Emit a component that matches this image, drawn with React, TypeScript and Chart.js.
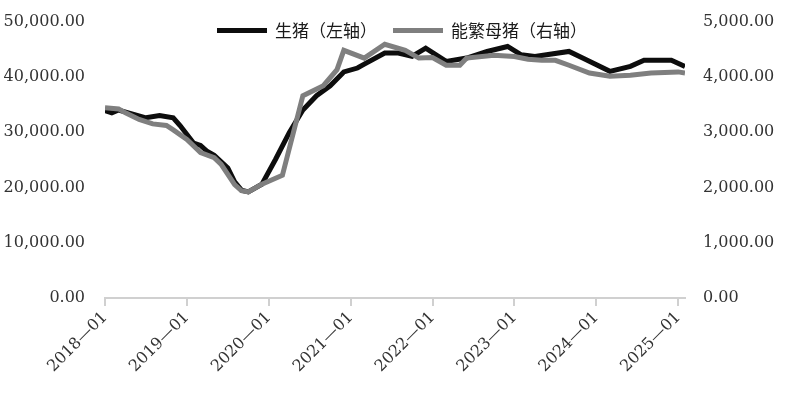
import React, { useEffect, useRef } from "react";
import { Chart, registerables } from "chart.js";

Chart.register(...registerables);

// x-axis tick labels (one per year)
const yearLabels = ["2018—01", "2019—01", "2020—01", "2021—01", "2022—01", "2023—01", "2024—01", "2025—01"];

// 生猪 (left axis) — dates of vertices and values
const hogDates = [
  "2018-01", "2018-02", "2018-03", "2018-07", "2018-09", "2018-11", "2018-12",
  "2019-02", "2019-03", "2019-04", "2019-05", "2019-07", "2019-08", "2019-09", "2019-10",
  "2019-12", "2020-02", "2020-04", "2020-06", "2020-08", "2020-10", "2020-12", "2021-02",
  "2021-03", "2021-06", "2021-08", "2021-10", "2021-12", "2022-03", "2022-06", "2022-09",
  "2022-12", "2023-02", "2023-04", "2023-09", "2023-11", "2024-03", "2024-06", "2024-08",
  "2024-12", "2025-02",
];
const hogValues = [
  33900, 33500, 34000, 32600, 33000, 32600, 31200,
  28000, 27600, 26500, 25800, 23500, 21000, 19500, 19200,
  20600, 25100, 29900, 34000, 36600, 38400, 40900, 41600,
  42300, 44300, 44300, 43700, 45200, 42800, 43400, 44600,
  45500, 44000, 43700, 44600, 43400, 41000, 41900, 43000,
  43000, 41900,
];

// 能繁母猪 (right axis)
const sowDates = [
  "2018-01", "2018-03", "2018-04", "2018-06", "2018-08", "2018-10", "2018-11",
  "2019-01", "2019-02", "2019-03", "2019-05", "2019-06", "2019-08", "2019-09", "2019-10",
  "2019-12", "2020-03", "2020-06", "2020-09", "2020-11", "2020-12", "2021-03", "2021-06",
  "2021-09", "2021-11", "2022-01", "2022-03", "2022-05", "2022-06", "2022-10", "2023-01",
  "2023-03", "2023-05", "2023-07", "2023-09", "2023-12", "2024-03", "2024-06", "2024-09",
  "2025-01", "2025-02",
];
const sowValues = [
  3440, 3420, 3350, 3230, 3150, 3120, 3040,
  2870, 2750, 2630, 2540, 2420, 2050, 1940, 1920,
  2060, 2220, 3660, 3840, 4130, 4480, 4340, 4590,
  4480, 4340, 4350, 4210, 4210, 4340, 4390, 4370,
  4320, 4300, 4300, 4210, 4070, 4010, 4030, 4070,
  4090, 4070,
];

const START_YEAR = 2018;
const monthIndex = (d: string) => {
  const [y, m] = d.split("-").map(Number);
  return (y - START_YEAR) * 12 + (m - 1);
};

const fmt = (v: number) =>
  v.toLocaleString("en-US", { minimumFractionDigits: 2, maximumFractionDigits: 2 });

const HOG_LABEL = "生猪（左轴）";
const SOW_LABEL = "能繁母猪（右轴）";
const HOG_COLOR = "#0d0d0d";
const SOW_COLOR = "#7f7f7f";

const legendPlugin = {
  id: "topLegend",
  afterDraw(chart: any) {
    const ctx = chart.ctx;
    const area = chart.chartArea;
    ctx.save();
    ctx.font = '17px "Noto Sans CJK SC"';
    ctx.textBaseline = "middle";
    ctx.fillStyle = "#1a1a1a";
    const items = [
      { label: HOG_LABEL, color: HOG_COLOR },
      { label: SOW_LABEL, color: SOW_COLOR },
    ];
    const lineW = 50;
    const gap = 8;
    const itemGap = 16;
    const widths = items.map((it) => lineW + gap + ctx.measureText(it.label).width);
    const total = widths.reduce((a, b) => a + b, 0) + itemGap;
    let x = (area.left + area.right) / 2 - total / 2 + 7;
    const y = area.top + 9;
    items.forEach((it, i) => {
      ctx.strokeStyle = it.color;
      ctx.lineWidth = 5;
      ctx.lineCap = "butt";
      ctx.beginPath();
      ctx.moveTo(x, y);
      ctx.lineTo(x + lineW, y);
      ctx.stroke();
      ctx.fillText(it.label, x + lineW + gap, y);
      x += widths[i] + itemGap;
    });
    ctx.restore();
  },
};

export default function App() {
  const ref = useRef<HTMLCanvasElement>(null);

  useEffect(() => {
    if (!ref.current) return;
    const tickFont = { family: '"DejaVu Serif"', size: 16 };
    const chart = new Chart(ref.current, {
      type: "line",
      data: {
        datasets: [
          {
            label: HOG_LABEL,
            data: hogDates.map((d, i) => ({ x: monthIndex(d), y: hogValues[i] })),
            borderColor: HOG_COLOR,
            backgroundColor: HOG_COLOR,
            borderWidth: 5,
            pointRadius: 0,
            tension: 0,
            yAxisID: "yL",
            order: 1,
          },
          {
            label: SOW_LABEL,
            data: sowDates.map((d, i) => ({ x: monthIndex(d), y: sowValues[i] })),
            borderColor: SOW_COLOR,
            backgroundColor: SOW_COLOR,
            borderWidth: 5,
            pointRadius: 0,
            tension: 0,
            yAxisID: "yR",
            order: 0,
          },
        ],
      },
      options: {
        responsive: false,
        animation: false,
        layout: { padding: { top: 16, left: 0, right: 0, bottom: 0 } },
        plugins: { legend: { display: false }, tooltip: { enabled: false } },
        scales: {
          x: {
            type: "linear",
            min: 0,
            max: 85,
            afterBuildTicks: (scale: any) => {
              scale.ticks = yearLabels.map((_, i) => ({ value: i * 12 }));
            },
            afterFit: (scale: any) => {
              scale.height = 98;
            },
            ticks: {
              autoSkip: false,
              minRotation: 45,
              maxRotation: 45,
              font: tickFont,
              color: "#333333",
              padding: 2,
              callback: (v: any) => yearLabels[Math.round(Number(v) / 12)] ?? "",
            },
            grid: {
              display: true,
              drawOnChartArea: false,
              drawTicks: true,
              tickLength: 8,
              color: "#d0d0d0",
              lineWidth: 2,
            },
            border: { display: true, color: "#d0d0d0", width: 2 },
          },
          yL: {
            type: "linear",
            position: "left",
            min: 0,
            max: 50000,
            afterFit: (scale: any) => {
              scale.width = 105;
            },
            ticks: {
              stepSize: 10000,
              font: tickFont,
              color: "#333333",
              padding: 12,
              callback: (v: any) => fmt(Number(v)),
            },
            grid: { display: false },
            border: { display: false },
          },
          yR: {
            type: "linear",
            position: "right",
            min: 0,
            max: 5000,
            afterFit: (scale: any) => {
              scale.width = 101;
            },
            ticks: {
              stepSize: 1000,
              font: tickFont,
              color: "#333333",
              padding: 10,
              callback: (v: any) => fmt(Number(v)),
            },
            grid: { display: false },
            border: { display: false },
          },
        },
      },
      plugins: [legendPlugin],
    } as any);
    return () => chart.destroy();
  }, []);

  return (
    <div style={{ position: "fixed", left: 0, top: 0, width: 786, height: 396, background: "#fff" }}>
      <canvas ref={ref} width={786} height={396} />
    </div>
  );
}
